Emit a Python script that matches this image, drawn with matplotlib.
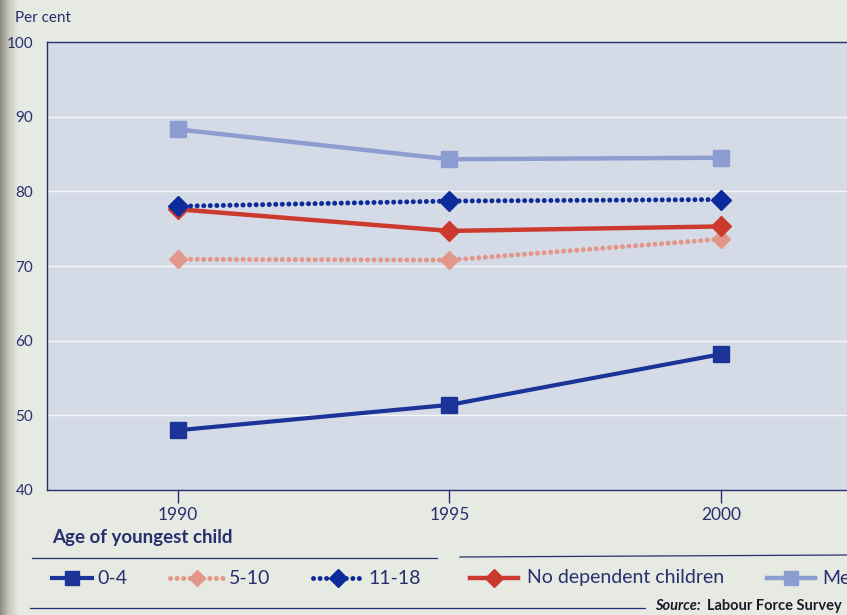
import numpy as np
import matplotlib.pyplot as plt
from matplotlib.lines import Line2D

# employment rates, per cent
years = [1990, 1995, 2000]
age_0_4 = [48.0, 51.4, 58.2]
age_5_10 = [70.9, 70.8, 73.6]
age_11_18 = [78.0, 78.7, 78.9]
no_dependent = [77.6, 74.7, 75.3]
men = [88.3, 84.3, 84.5]

series_names = ["0-4", "5-10", "11-18", "No dependent children", "Men"]
yticks = [40, 50, 60, 70, 80, 90, 100]

navy = "#26306e"
page = "#e7e9e3"
dots = (0, (0.01, 1.3))

styles = {
    "0-4": dict(color="#1c3497", marker="s", ms=11, lw=3.0, ls="-"),
    "5-10": dict(color="#e3968a", marker="D", ms=9, lw=3.6, ls=dots),
    "11-18": dict(color="#0d2b9b", marker="D", ms=10, lw=3.6, ls=dots),
    "No dependent children": dict(color="#cc3a2e", marker="D", ms=10, lw=3.2, ls="-"),
    "Men": dict(color="#8c9dd2", marker="s", ms=11, lw=3.2, ls="-"),
}
values = dict(zip(series_names, [age_0_4, age_5_10, age_11_18, no_dependent, men]))

plt.rcParams['font.family'] = ['Lato', 'DejaVu Sans']

fig = plt.figure(figsize=(8.47, 6.15), dpi=100)
fig.patch.set_facecolor(page)

ax = fig.add_axes([47 / 847, 1 - 490 / 615, 813 / 847, 448 / 615])
ax.set_facecolor("#d5dbe6")
ax.set_xlim(1987.6, 2002.55)
ax.set_ylim(40, 100)

for y in yticks[1:-1]:
    ax.axhline(y, color="white", lw=1.0, alpha=0.8, zorder=1)

# draw order: men at the back, then the children groups
for name in ["Men", "5-10", "No dependent children", "11-18", "0-4"]:
    st = styles[name]
    ax.plot(years, values[name], color=st["color"], lw=st["lw"], ls=st["ls"],
            dash_capstyle="round", marker=st["marker"], ms=st["ms"],
            mec=st["color"], mfc=st["color"], zorder=3, clip_on=False)

for side in ["top", "left", "bottom"]:
    ax.spines[side].set_color(navy)
    ax.spines[side].set_linewidth(1.0)
ax.spines["right"].set_visible(False)

ax.set_xticks(years)
ax.set_xticklabels([str(y) for y in years], fontsize=12.5, color=navy)
ax.tick_params(axis="x", direction="out", length=9, width=1, color=navy, pad=3)
ax.set_yticks(yticks)
ax.set_yticklabels([str(y) for y in yticks], fontsize=11, color=navy)
ax.tick_params(axis="y", length=0, pad=10)

fig.text(15 / 847, 1 - 18 / 615, "Per cent", fontsize=11, color=navy, va="center")

# legend block under the chart
fig.text(52 / 847, 1 - 538 / 615, "Age of youngest child", fontsize=13.5,
         color=navy, fontweight="bold", va="center")
fig.add_artist(Line2D([32 / 847, 437 / 847], [1 - 558 / 615, 1 - 558 / 615],
                      color=navy, lw=0.9))
fig.add_artist(Line2D([460 / 847, 1.0], [1 - 557 / 615, 1 - 555 / 615],
                      color=navy, lw=0.9))
fig.add_artist(Line2D([30 / 847, 645 / 847], [1 - 608 / 615, 1 - 608 / 615],
                      color=navy, lw=0.9))

# handle start, handle end, text start (pixels)
handle_pos = [(52, 92, 97), (170, 224, 229), (313, 363, 368), (470, 518, 527), (767, 815, 822)]
yl = 1 - 578 / 615
for name, (x0, x1, xt) in zip(series_names, handle_pos):
    st = styles[name]
    fig.add_artist(Line2D([x0 / 847, x1 / 847], [yl, yl], color=st["color"],
                          lw=st["lw"], ls=st["ls"], dash_capstyle="round"))
    fig.add_artist(Line2D([(x0 + x1) / 2 / 847], [yl], color=st["color"], marker=st["marker"],
                          ms=st["ms"] - 1, mec=st["color"], mfc=st["color"], lw=0))
    fig.text(xt / 847, yl, name, fontsize=14, color=navy, va="center")

fig.text(655 / 847, 1 - 606 / 615, "Source:", fontsize=10.5, color="#1a1a2a",
         fontweight="bold", fontstyle="italic", va="center")
fig.text(707 / 847, 1 - 606 / 615, "Labour Force Survey", fontsize=10.5,
         color="#1a1a2a", fontweight="bold", va="center")

# shadow along the binding on the left edge
sh = fig.add_axes([0, 0, 18 / 847, 1], zorder=-1)
grad = np.linspace(0, 1, 64).reshape(1, -1)
sh.imshow(grad, aspect="auto", cmap=plt.matplotlib.colors.LinearSegmentedColormap.from_list(
    "edge", ["#8d8c82", "#c9cac2", page]), extent=[0, 1, 0, 1])
sh.axis("off")

fig.savefig("out.png", dpi=100, facecolor=fig.get_facecolor())
